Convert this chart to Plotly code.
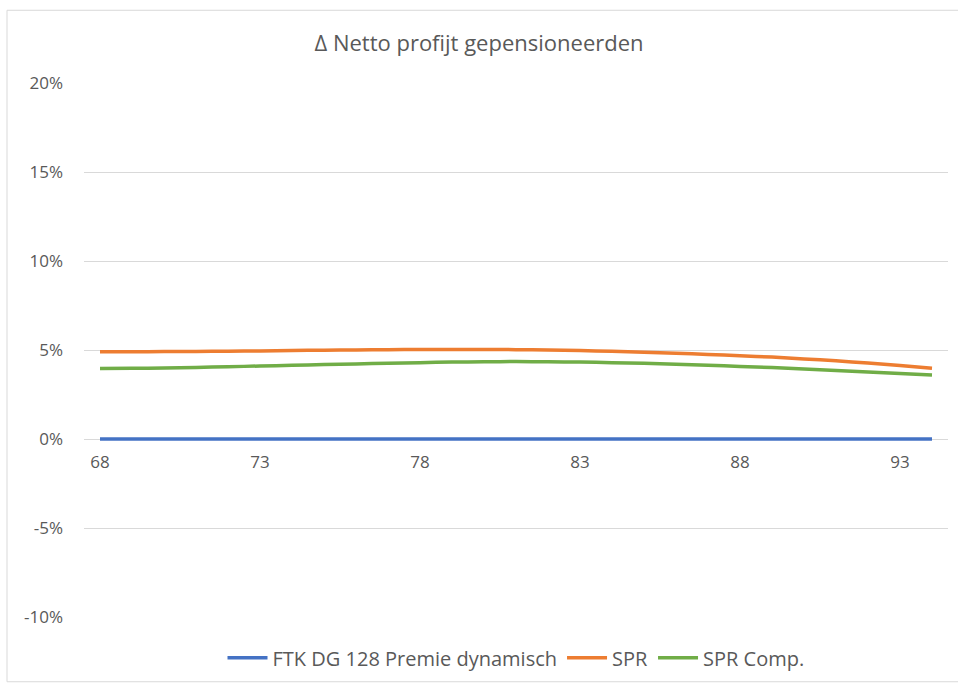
import plotly.graph_objects as go

ages = list(range(68, 95))
ftk = [0.0] * len(ages)
spr = [4.90, 4.90, 4.91, 4.92, 4.93, 4.95, 4.97, 4.99, 5.00, 5.02, 5.03, 5.03, 5.03, 5.02,
       5.00, 4.97, 4.93, 4.88, 4.82, 4.75, 4.68, 4.60, 4.50, 4.39, 4.27, 4.13, 3.97]
spr_comp = [3.96, 3.97, 3.99, 4.02, 4.06, 4.10, 4.14, 4.18, 4.22, 4.26, 4.29, 4.32, 4.34, 4.35,
            4.34, 4.32, 4.29, 4.25, 4.20, 4.14, 4.08, 4.01, 3.93, 3.85, 3.77, 3.68, 3.60]
series_names = ["FTK DG 128 Premie dynamisch", "SPR", "SPR Comp."]
colors = ["#4472C4", "#ED7D31", "#70AD47"]
ytick_vals = [-10, -5, 0, 5, 10, 15, 20]
ytick_text = ["-10%", "-5%", "0%", "5%", "10%", "15%", "20%"]
xtick_vals = [68, 73, 78, 83, 88, 93]

fig = go.Figure()
for name, vals, c in zip(series_names, [ftk, spr, spr_comp], colors):
    fig.add_trace(go.Scatter(x=ages, y=vals, name=name, mode="lines",
                             line=dict(color=c, width=3.5, shape="spline", smoothing=0.6)))

font = dict(family="Open Sans, Liberation Sans, sans-serif", color="#595959")
W, H = 958, 687
L, R, T, B = 84, 10, 83, 68
pw, ph = W - L - R, H - T - B
fig.update_layout(
    width=W, height=H,
    paper_bgcolor="white", plot_bgcolor="white",
    margin=dict(l=L, r=R, t=T, b=B),
    font=dict(size=17, **font),
    title=dict(text="Δ Netto profijt gepensioneerden", x=0.5, xanchor="center",
               y=1 - 43 / H, yanchor="middle", font=dict(size=22, **font)),
    xaxis=dict(range=[67.5, 94.5], tickvals=xtick_vals, showgrid=False,
               anchor="free", position=1 / 3, showline=True, linecolor="#d9d9d9",
               linewidth=1, ticks="", zeroline=False, tickfont=dict(size=17, **font),
               ticklabelstandoff=8, layer="below traces"),
    yaxis=dict(range=[-10, 20], tickvals=ytick_vals, ticktext=ytick_text,
               showgrid=True, gridcolor="#d9d9d9", gridwidth=1, zeroline=False,
               showline=False, ticks="", tickfont=dict(size=17, **font),
               ticklabelstandoff=20, layer="below traces"),
    legend=dict(orientation="h", x=0.5, xanchor="center", y=-(660 - (H - B)) / ph,
                yanchor="middle", font=dict(size=20, **font), itemwidth=40,
                tracegroupgap=0),
    shapes=[dict(type="rect", xref="paper", yref="paper",
                 x0=-(L - 7) / pw, x1=1 + (R + 5) / pw,
                 y0=-(684 - (H - B)) / ph, y1=1 + (T - 10) / ph,
                 line=dict(color="#d9d9d9", width=1), fillcolor="rgba(0,0,0,0)",
                 layer="below")],
)

fig.write_html("out.html", config={"displayModeBar": False},
               post_script="document.body.style.margin='0';")
